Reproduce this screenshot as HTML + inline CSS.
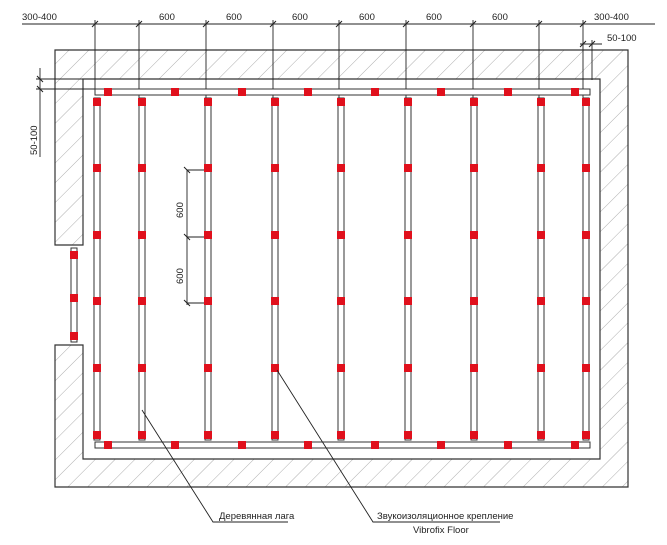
<!DOCTYPE html>
<html><head><meta charset="utf-8"><style>
html,body{margin:0;padding:0;background:#fff}
svg{display:block}
text{font-family:"Liberation Sans",sans-serif;font-size:9.5px;fill:#222}
</style></head><body>
<svg width="667" height="545" viewBox="0 0 667 545" xmlns="http://www.w3.org/2000/svg">
<defs>
<pattern id="h" patternUnits="userSpaceOnUse" width="14" height="14" patternTransform="rotate(45)">
<line x1="0" y1="0" x2="0" y2="14" stroke="#999" stroke-width="0.8"/>
</pattern>
<g id="col">
<rect x="-3" y="98" width="6" height="342" fill="#fff" stroke="#333" stroke-width="1"/>
<g fill="#e0101c">
<rect x="-4" y="98" width="8" height="8"/><rect x="-4" y="164" width="8" height="8"/>
<rect x="-4" y="231" width="8" height="8"/><rect x="-4" y="297" width="8" height="8"/>
<rect x="-4" y="364" width="8" height="8"/><rect x="-4" y="431" width="8" height="8"/>
</g>
</g>
<g id="hl">
<rect x="95" y="-3" width="495" height="6" fill="#fff" stroke="#333" stroke-width="1"/>
<g fill="#e0101c">
<rect x="104" y="-4" width="8" height="8"/><rect x="171" y="-4" width="8" height="8"/>
<rect x="238" y="-4" width="8" height="8"/><rect x="304" y="-4" width="8" height="8"/>
<rect x="371" y="-4" width="8" height="8"/><rect x="437" y="-4" width="8" height="8"/>
<rect x="504" y="-4" width="8" height="8"/><rect x="571" y="-4" width="8" height="8"/>
</g>
</g>
</defs>
<!-- walls -->
<path d="M55,50 H628 V487 H55 V345 H83 V459 H600 V79 H83 V245 H55 Z" fill="url(#h)" stroke="#333" stroke-width="1.2"/>
<!-- dimension line top -->
<g stroke="#222" stroke-width="0.9">
<line x1="22" y1="24" x2="655" y2="24"/>
<line x1="95" y1="20" x2="95" y2="95"/>
<line x1="139" y1="20" x2="139" y2="100"/>
<line x1="206" y1="20" x2="206" y2="100"/>
<line x1="273" y1="20" x2="273" y2="100"/>
<line x1="339" y1="20" x2="339" y2="100"/>
<line x1="406" y1="20" x2="406" y2="100"/>
<line x1="473" y1="20" x2="473" y2="100"/>
<line x1="539" y1="20" x2="539" y2="100"/>
<line x1="583" y1="20" x2="583" y2="100"/>
<line x1="592" y1="40" x2="592" y2="80"/>
<line x1="580" y1="44" x2="602" y2="44"/>
<line x1="40" y1="68" x2="40" y2="157"/>
<line x1="36" y1="79" x2="83" y2="79"/>
<line x1="36" y1="89" x2="95" y2="89"/>
<line x1="187" y1="170" x2="187" y2="305"/>
<line x1="187" y1="170" x2="208" y2="170"/>
<line x1="187" y1="237" x2="208" y2="237"/>
<line x1="187" y1="303" x2="208" y2="303"/>
</g>
<g stroke="#222" stroke-width="1">
<path d="M92,27 l6,-6 M136,27 l6,-6 M203,27 l6,-6 M270,27 l6,-6 M336,27 l6,-6 M403,27 l6,-6 M470,27 l6,-6 M536,27 l6,-6 M580,27 l6,-6"/>
<path d="M580,47 l6,-6 M589,47 l6,-6"/>
<path d="M37,76 l6,6 M37,86 l6,6"/>
<path d="M184,167 l6,6 M184,234 l6,6 M184,300 l6,6"/>
</g>
<text x="22" y="20">300-400</text>
<text x="594" y="20">300-400</text>
<text x="607" y="41">50-100</text>
<text x="159" y="20">600</text><text x="226" y="20">600</text><text x="292" y="20">600</text>
<text x="359" y="20">600</text><text x="426" y="20">600</text><text x="492" y="20">600</text>
<text transform="translate(37,155) rotate(-90)">50-100</text>
<text transform="translate(183,218) rotate(-90)">600</text>
<text transform="translate(183,284) rotate(-90)">600</text>
<!-- lags -->
<use href="#hl" y="92"/>
<use href="#hl" y="445"/>
<use href="#col" x="97"/><use href="#col" x="142"/><use href="#col" x="208"/>
<use href="#col" x="275"/><use href="#col" x="341"/><use href="#col" x="408"/>
<use href="#col" x="474"/><use href="#col" x="541"/><use href="#col" x="586"/>
<!-- door lag -->
<rect x="71" y="248" width="6" height="94" fill="#fff" stroke="#333"/>
<g fill="#e0101c"><rect x="70" y="251" width="8" height="8"/><rect x="70" y="294" width="8" height="8"/><rect x="70" y="332" width="8" height="8"/></g>
<!-- leaders -->
<g stroke="#222" stroke-width="0.9" fill="none">
<polyline points="142,410 213,522 288,522"/>
<polyline points="277,370 373,522 500,522"/>
</g>
<text x="219" y="519">Деревянная лага</text>
<text x="377" y="519">Звукоизоляционное крепление</text>
<text x="413" y="533">Vibrofix Floor</text>
</svg>
</body></html>
